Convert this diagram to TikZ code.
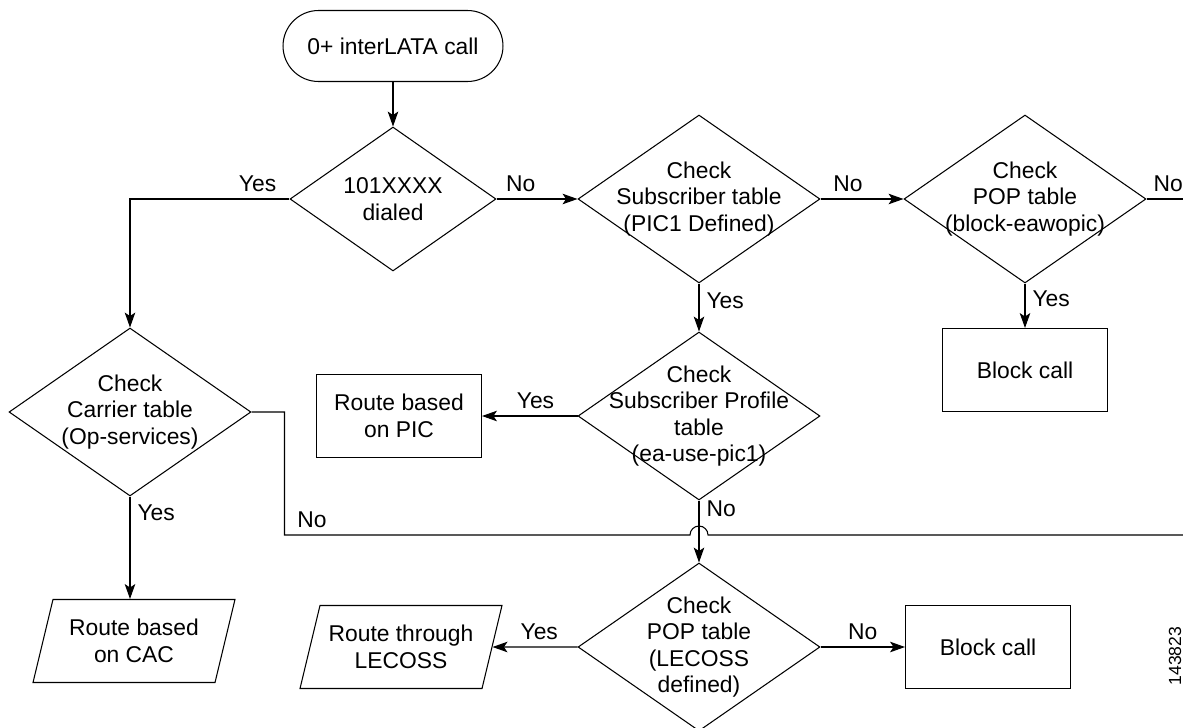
\documentclass[tikz,border=0pt]{standalone}
\usepackage{fontspec}
\setmainfont{Liberation Sans}
\usetikzlibrary{shapes.geometric,arrows.meta}

\begin{document}
\begin{tikzpicture}[x=0.02cm,y=-0.02cm,line width=0.6pt,
  every node/.style={font=\fontsize{13}{15}\selectfont},
  start/.style={rectangle,draw,rounded corners=0.71cm,minimum width=4.4cm,minimum height=1.42cm},
  decision/.style={diamond,draw,minimum width=4.84cm,minimum height=3.36cm,inner sep=0pt},
  dtext/.style={label={[align=center]center:#1}},
  process/.style={rectangle,draw,minimum width=3.3cm,minimum height=1.66cm,align=center},
  io/.style={trapezium,draw,trapezium left angle=70,trapezium right angle=110,
    trapezium stretches body,minimum width=4.04cm,minimum height=1.66cm,inner xsep=0pt,align=center},
  lbl/.style={inner sep=4pt},
  arr/.style={-{Stealth[length=8.5pt,width=6pt,inset=2pt]}}]
  \useasboundingbox (0,0) rectangle (1183,727);

  \node [start] (call) at (393,46) {0+ interLATA call};
  \node [decision,minimum width=4.12cm,minimum height=2.88cm,dtext={101XXXX\\dialed}] (dial) at (393,199) {};
  \node [decision,dtext={Check\\Subscriber table\\(PIC1 Defined)}] (sub) at (699,199) {};
  \node [decision,dtext={Check\\POP table\\(block-eawopic)}] (popblk) at (1025,199) {};
  \node [process] (block1) at (1025,370) {Block call};
  \node [decision,dtext={Check\\Carrier table\\(Op-services)}] (carrier) at (130,412) {};
  \node [decision,dtext={Check\\Subscriber Profile\\table\\(ea-use-pic1)}] (profile) at (699,416) {};
  \node [process] (pic) at (399,416) {Route based\\on PIC};
  \node [io] (cac) at (134,641) {Route based\\on CAC};
  \node [decision,dtext={Check\\POP table\\(LECOSS\\defined)}] (lecoss) at (699,647) {};
  \node [io] (lecroute) at (401,647) {Route through\\LECOSS};
  \node [process] (block2) at (988,647) {Block call};
  \node [rotate=90,inner sep=0pt,font=\fontsize{10}{12}\selectfont] (fignum) at (1175,656) {143823};

  \coordinate (popend) at (1183,199);
  \coordinate (noend) at (1183,535);
  \coordinate (hop) at (profile.south |- noend);

  \draw [arr] (call) -- (dial);
  \draw [arr] (dial.west) -| node [lbl,above,pos=0.1] {Yes} (carrier.north);
  \draw [arr] (dial) -- node [lbl,above,pos=0.3] {No} (sub);
  \draw [arr] (sub) -- node [lbl,above,pos=0.33] {No} (popblk);
  \draw (popblk.east) -- node [lbl,above,xshift=2pt] {No} (popend);
  \draw [arr] (popblk) -- node [lbl,right,pos=0.35] {Yes} (block1);
  \draw [arr] (sub) -- node [lbl,right,pos=0.35] {Yes} (profile);
  \draw [arr] (profile) -- node [lbl,above,pos=0.44] {Yes} (pic);
  \draw [arr] (carrier.south) -- node [lbl,right,pos=0.16] {Yes} (carrier.south |- cac.north);
  \draw (carrier.east) -- ++(33,0) |- node [lbl,above right,pos=0.5,xshift=3pt] {No} ([xshift=-0.18cm]hop)
    arc [start angle=180,end angle=0,radius=0.18cm] -- (noend);
  \draw [arr] (profile) -- node [lbl,right,pos=0.14] {No} (lecoss);
  \draw [arr] (lecoss) -- node [lbl,above,pos=0.45] {Yes} (lecroute);
  \draw [arr] (lecoss) -- node [lbl,above,pos=0.5] {No} (block2);
\end{tikzpicture}
\end{document}
